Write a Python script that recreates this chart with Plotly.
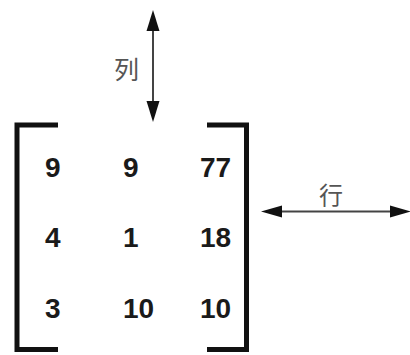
import plotly.graph_objects as go

# ---- data ----
matrix_values = [[9, 9, 77],
                 [4, 1, 18],
                 [3, 10, 10]]
row_index = [0, 1, 2]
col_index = [0, 1, 2]
col_label = "列"
row_label = "行"

W, H = 410, 355

fig = go.Figure()

# invisible traces so both axis pairs exist
fig.add_trace(go.Scatter(x=[None], y=[None], xaxis="x", yaxis="y", showlegend=False, hoverinfo="skip"))
fig.add_trace(go.Scatter(x=[None], y=[None], xaxis="x2", yaxis="y2", showlegend=False, hoverinfo="skip"))

# matrix cells placed via the x/y axes (column / row index units)
annotations = []
for r in row_index:
    for c in col_index:
        annotations.append(dict(
            x=c, y=r, xref="x", yref="y", text=str(matrix_values[r][c]),
            showarrow=False, xanchor="left", yanchor="middle",
            font=dict(family="Liberation Sans, Arial, sans-serif", size=28,
                      color="#1a1a1a", weight="bold"),
        ))

# labels (decoration axes in pixel-like units)
annotations.append(dict(x=126, y=68, xref="x2", yref="y2", text=col_label, showarrow=False,
                        xanchor="center", yanchor="middle",
                        font=dict(family="Noto Sans CJK SC", size=25, color="#555555")))
annotations.append(dict(x=331, y=193, xref="x2", yref="y2", text=row_label, showarrow=False,
                        xanchor="center", yanchor="middle",
                        font=dict(family="Noto Sans CJK SC", size=24, color="#555555")))

shapes = []
bracket_color = "#111111"
# left bracket
shapes.append(dict(type="path", xref="x2", yref="y2",
                   path="M 58,125 L 17,125 L 17,349.5 L 58,349.5",
                   line=dict(color=bracket_color, width=5)))
# right bracket
shapes.append(dict(type="path", xref="x2", yref="y2",
                   path="M 207,125 L 246.5,125 L 246.5,349.5 L 207,349.5",
                   line=dict(color=bracket_color, width=5)))

arrow_line = "#444444"
head_color = "#111111"
# vertical double arrow
shapes.append(dict(type="line", xref="x2", yref="y2", x0=153, x1=153, y0=28, y1=104,
                   line=dict(color=arrow_line, width=2)))
shapes.append(dict(type="path", xref="x2", yref="y2", path="M 153,10 L 146.5,31 L 159.5,31 Z",
                   fillcolor=head_color, line=dict(color=head_color, width=0)))
shapes.append(dict(type="path", xref="x2", yref="y2", path="M 153,122 L 146.5,101 L 159.5,101 Z",
                   fillcolor=head_color, line=dict(color=head_color, width=0)))
# horizontal double arrow
shapes.append(dict(type="line", xref="x2", yref="y2", x0=278, x1=394, y0=211.5, y1=211.5,
                   line=dict(color=arrow_line, width=2)))
shapes.append(dict(type="path", xref="x2", yref="y2", path="M 261,211.5 L 282,205.5 L 282,217.5 Z",
                   fillcolor=head_color, line=dict(color=head_color, width=0)))
shapes.append(dict(type="path", xref="x2", yref="y2", path="M 411,211.5 L 390,205.5 L 390,217.5 Z",
                   fillcolor=head_color, line=dict(color=head_color, width=0)))

fig.update_layout(
    width=W, height=H,
    margin=dict(l=0, r=0, t=0, b=0),
    paper_bgcolor="white", plot_bgcolor="white",
    showlegend=False,
    xaxis=dict(range=[-0.5548, 4.7355], visible=False, fixedrange=True),
    yaxis=dict(range=[2.6667, -2.3688], visible=False, fixedrange=True),
    xaxis2=dict(range=[0, W], visible=False, overlaying="x", fixedrange=True),
    yaxis2=dict(range=[H, 0], visible=False, overlaying="y", fixedrange=True),
    annotations=annotations,
    shapes=shapes,
)

fig.write_html("out.html", config={"displayModeBar": False},
               post_script="document.body.style.margin='0';document.body.style.overflow='hidden';")
